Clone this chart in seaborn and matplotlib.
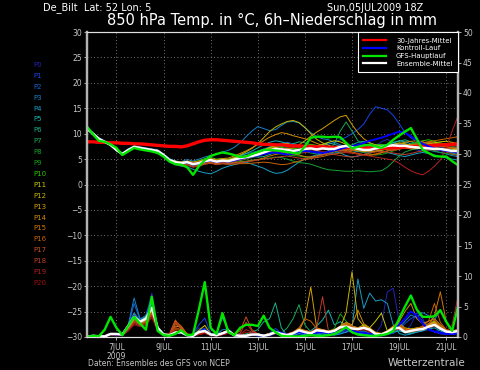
import matplotlib
matplotlib.use("Agg")
import matplotlib.pyplot as plt
from matplotlib.lines import Line2D
import pandas as pd
import seaborn as sns

# ---------------- data ----------------
hours = list(range(0, 379, 6))   # forecast hours from 05JUL2009 18Z
x_ticks = [30, 78, 126, 174, 222, 270, 318, 366]
x_labels = ["7JUL\n2009", "9JUL", "11JUL", "13JUL", "15JUL", "17JUL", "19JUL", "21JUL"]
members = ["P%d" % i for i in range(21)]
member_colors = ["#2323b9", "#1446e6", "#1464d2", "#1482c8", "#14a0c8", "#14b4b4", "#14b48c",
                 "#14aa5a", "#14a032", "#14a014", "#28c800", "#c8c800", "#c8b400", "#d2a000",
                 "#d28c00", "#d27800", "#c86400", "#c85014", "#be3c28", "#b42020", "#a01010"]

clim_t = [8.4, 8.4, 8.3, 8.3, 8.2, 8.2, 8.1, 8.1, 8.0, 8.0, 7.9, 7.8, 7.7, 7.6, 7.5, 7.5,
          7.4, 7.6, 8.0, 8.4, 8.7, 8.8, 8.8, 8.7, 8.6, 8.5, 8.4, 8.3, 8.2, 8.0, 7.9, 7.9,
          7.8, 7.8, 7.7, 7.6, 7.6, 7.5, 7.5, 7.4, 7.4, 7.3, 7.3, 7.3, 7.2, 7.3, 7.3, 7.2,
          7.2, 7.2, 7.1, 7.2, 7.2, 7.3, 7.4, 7.4, 7.5, 7.6, 7.6, 7.7, 7.8, 7.8, 7.9, 8.0]
mean_t = [11.0, 10.0, 9.0, 8.4, 7.8, 6.8, 6.0, 6.8, 7.4, 7.2, 7.0, 6.8, 6.6, 5.8, 4.8, 4.4,
          4.2, 4.4, 4.0, 4.2, 4.6, 4.8, 4.5, 4.7, 4.6, 4.9, 5.2, 5.4, 5.6, 5.9, 6.3, 6.7,
          7.0, 6.9, 6.8, 6.6, 6.8, 7.0, 7.1, 6.9, 7.1, 7.0, 7.0, 7.4, 7.6, 7.3, 7.0, 6.8,
          6.8, 7.1, 7.3, 7.6, 7.7, 7.6, 7.6, 7.4, 7.3, 7.2, 7.1, 7.0, 7.0, 6.8, 6.6, 6.6]
gfs_t = [11.4, 9.9, 8.6, 8.4, 7.9, 7.2, 5.8, 6.5, 7.2, 6.9, 6.7, 6.5, 6.2, 5.5, 4.5, 4.0,
         3.9, 3.4, 1.9, 3.6, 4.8, 5.6, 6.0, 6.3, 6.1, 5.8, 5.4, 5.5, 6.0, 6.4, 6.8, 6.8,
         6.7, 6.6, 6.4, 6.2, 6.1, 7.5, 9.2, 9.4, 9.4, 9.3, 9.4, 9.3, 8.2, 7.1, 7.4, 7.7,
         7.8, 7.5, 7.2, 7.8, 8.8, 9.6, 10.4, 11.1, 9.0, 6.8, 6.2, 5.6, 5.5, 5.5, 4.6, 3.8]
ctrl_t = [11.1, 10.0, 9.0, 8.4, 7.8, 6.8, 6.0, 6.8, 7.4, 7.2, 7.0, 6.8, 6.6, 5.8, 4.8, 4.3,
          4.1, 4.3, 3.9, 4.1, 4.5, 4.7, 4.4, 4.6, 4.5, 4.7, 5.0, 5.3, 5.5, 5.7, 6.0, 6.2,
          6.3, 6.1, 5.9, 6.1, 6.4, 6.6, 6.5, 6.3, 6.2, 6.4, 6.7, 7.0, 7.3, 7.5, 7.8, 8.2,
          8.6, 8.9, 9.2, 9.6, 10.0, 10.4, 10.2, 9.5, 8.7, 8.0, 7.5, 7.1, 6.8, 6.6, 6.5, 6.4]

p0_t = [11.2, 10.1, 9.1, 8.3, 7.7, 6.7, 6.0, 6.9, 7.5, 7.3, 7.1, 6.9, 6.7, 5.7, 4.6, 4.2,
        4.0, 4.3, 3.7, 3.9, 4.2, 4.5, 4.2, 4.4, 4.3, 4.6, 5.0, 5.3, 5.7, 6.2, 6.5, 6.8,
        6.6, 6.3, 6.0, 5.8, 6.1, 6.4, 6.6, 6.2, 6.0, 6.2, 6.5, 6.9, 7.2, 6.8, 6.4, 6.6,
        7.0, 7.6, 8.4, 8.9, 8.2, 7.6, 7.3, 7.0, 6.8, 6.6, 6.9, 7.3, 7.0, 6.5, 6.2, 6.0]
p1_t = [11.0, 9.9, 9.0, 8.5, 7.9, 6.9, 6.1, 6.8, 7.3, 7.1, 6.9, 6.7, 6.4, 5.6, 4.9, 4.5,
        4.4, 4.6, 4.3, 4.5, 4.8, 5.1, 4.9, 5.0, 4.9, 5.2, 5.4, 5.5, 5.6, 5.7, 6.0, 6.3,
        6.6, 6.7, 6.4, 6.2, 6.5, 6.9, 7.2, 7.4, 7.6, 7.9, 8.3, 8.8, 9.3, 10.0, 10.8, 11.9,
        13.8, 15.3, 15.0, 14.7, 13.6, 12.0, 10.2, 9.2, 8.5, 8.0, 7.6, 7.4, 7.7, 7.6, 7.2, 7.0]
p2_t = [11.3, 10.2, 9.2, 8.5, 7.7, 6.6, 5.9, 6.7, 7.3, 7.0, 6.8, 6.6, 6.4, 5.5, 4.5, 4.0,
        3.8, 4.0, 3.6, 3.9, 4.3, 4.4, 4.1, 4.3, 4.5, 5.0, 5.6, 6.0, 6.3, 6.6, 7.0, 7.4,
        7.8, 8.1, 8.3, 8.0, 7.6, 7.2, 7.0, 6.6, 6.3, 6.0, 6.2, 6.6, 6.9, 6.7, 6.5, 6.3,
        6.4, 6.6, 7.0, 7.3, 7.5, 7.8, 8.0, 7.8, 7.6, 7.9, 8.1, 7.8, 7.5, 7.0, 6.7, 6.3]
p3_t = [10.9, 9.8, 8.9, 8.3, 7.8, 6.9, 6.2, 7.0, 7.6, 7.4, 7.2, 7.0, 6.8, 6.0, 5.1, 4.6,
        4.5, 4.9, 4.6, 5.0, 5.4, 5.7, 6.0, 6.4, 6.7, 7.3, 8.2, 9.4, 10.5, 11.4, 11.0, 10.6,
        10.8, 11.6, 12.3, 12.4, 12.1, 11.2, 10.2, 9.4, 9.0, 8.8, 8.3, 7.8, 7.4, 7.0, 6.6, 6.4,
        6.6, 6.9, 7.3, 7.8, 8.2, 8.0, 7.7, 7.5, 7.2, 7.0, 6.8, 6.5, 6.3, 6.0, 5.7, 5.5]
p4_t = [11.1, 10.0, 9.0, 8.3, 7.7, 6.7, 5.9, 6.7, 7.3, 7.1, 6.9, 6.7, 6.5, 5.6, 4.5, 3.9,
        3.6, 3.5, 3.0, 2.6, 2.3, 2.1, 2.6, 3.2, 3.6, 3.9, 4.2, 4.4, 4.0, 3.6, 3.2, 2.6,
        2.2, 2.3, 2.8, 3.6, 4.4, 5.0, 5.5, 5.8, 6.0, 6.3, 6.6, 6.2, 5.7, 5.4, 5.6, 5.9,
        6.2, 6.5, 6.6, 6.3, 6.0, 5.7, 5.5, 5.8, 6.1, 6.3, 6.1, 5.8, 5.5, 5.2, 5.0, 4.8]
p5_t = [11.0, 10.1, 9.1, 8.4, 7.8, 6.8, 6.1, 6.9, 7.4, 7.3, 7.1, 6.9, 6.6, 5.9, 5.0, 4.6,
        4.3, 4.5, 4.2, 4.3, 4.5, 4.7, 4.3, 4.6, 4.8, 5.3, 5.7, 6.1, 6.6, 7.2, 7.8, 8.3,
        8.6, 8.4, 8.0, 7.8, 7.5, 7.1, 6.9, 7.3, 7.8, 8.2, 7.9, 7.5, 7.1, 6.7, 6.5, 6.8,
        7.2, 7.5, 7.7, 7.9, 8.3, 8.6, 8.4, 8.0, 7.7, 7.3, 7.0, 6.8, 6.9, 7.1, 7.3, 7.0]
p6_t = [11.2, 10.0, 9.0, 8.4, 7.8, 6.7, 6.0, 6.8, 7.5, 7.3, 7.0, 6.8, 6.6, 5.8, 4.8, 4.3,
        4.1, 4.2, 3.9, 4.0, 4.4, 4.6, 4.4, 4.6, 4.7, 5.0, 5.4, 5.6, 5.5, 5.4, 5.5, 5.9,
        6.3, 6.7, 7.3, 8.0, 8.4, 8.2, 7.8, 7.4, 7.0, 6.8, 6.7, 6.9, 7.3, 7.8, 8.3, 8.5,
        8.2, 7.8, 7.6, 7.9, 8.2, 8.5, 8.8, 8.4, 8.0, 7.8, 7.6, 7.3, 7.0, 6.6, 6.2, 5.8]
p7_t = [11.0, 9.9, 8.9, 8.3, 7.8, 6.9, 6.1, 6.9, 7.4, 7.2, 7.0, 6.8, 6.6, 5.8, 4.7, 4.2,
        4.2, 4.5, 4.1, 4.3, 4.8, 5.0, 4.7, 4.8, 4.5, 4.6, 4.9, 5.3, 5.6, 6.0, 6.5, 7.0,
        7.3, 7.5, 7.4, 7.0, 6.8, 6.5, 6.2, 6.0, 6.2, 6.6, 8.0, 10.5, 12.3, 10.5, 8.6, 8.0,
        7.6, 7.3, 7.0, 6.8, 6.9, 7.0, 7.2, 7.4, 7.3, 7.5, 7.8, 8.0, 8.2, 7.9, 7.5, 7.2]
p8_t = [11.1, 10.0, 9.0, 8.4, 7.8, 6.8, 6.0, 6.7, 7.3, 7.1, 6.9, 6.7, 6.5, 5.6, 4.6, 4.1,
        3.9, 4.0, 3.7, 3.8, 4.2, 4.3, 4.0, 4.2, 4.1, 4.3, 4.5, 4.6, 4.8, 4.9, 5.1, 5.2,
        5.4, 5.3, 5.0, 4.6, 4.3, 4.2, 4.0, 3.6, 3.2, 2.9, 2.8, 2.7, 2.6, 2.6, 2.7, 2.6,
        2.5, 2.6, 2.7, 3.4, 4.5, 5.6, 6.4, 6.8, 7.0, 7.1, 6.9, 6.6, 6.3, 6.1, 5.9, 5.8]
p9_t = [11.0, 10.1, 9.1, 8.5, 7.9, 6.8, 6.1, 6.8, 7.5, 7.2, 7.0, 6.8, 6.6, 5.8, 4.8, 4.3,
        4.2, 4.4, 4.1, 4.1, 4.4, 4.5, 4.3, 4.5, 4.4, 4.5, 4.7, 5.0, 5.3, 5.7, 6.1, 6.4,
        6.2, 6.0, 5.8, 5.7, 5.6, 5.4, 5.3, 5.5, 5.8, 6.1, 6.4, 6.7, 7.0, 6.9, 6.6, 6.3,
        6.0, 5.8, 5.9, 6.2, 6.6, 7.0, 7.4, 7.7, 7.9, 8.1, 8.4, 8.3, 8.1, 7.7, 7.3, 7.1]
p10_t = [11.3, 10.1, 9.1, 8.4, 7.8, 6.6, 5.9, 6.6, 7.2, 7.0, 6.8, 6.6, 6.4, 5.7, 4.8, 4.4,
         4.3, 4.6, 4.4, 4.7, 5.1, 5.3, 5.0, 5.1, 5.0, 5.2, 5.4, 5.7, 5.9, 6.3, 6.8, 7.2,
         7.5, 7.3, 7.1, 7.0, 7.2, 7.6, 7.9, 7.7, 7.4, 7.2, 7.1, 7.3, 7.5, 7.6, 7.4, 7.2,
         7.5, 7.8, 7.9, 7.6, 7.3, 7.2, 7.5, 7.9, 8.3, 8.6, 8.8, 8.5, 8.0, 7.5, 7.0, 6.5]
p11_t = [11.0, 9.9, 8.9, 8.3, 7.8, 6.9, 6.0, 6.8, 7.4, 7.2, 7.0, 6.8, 6.7, 5.9, 4.9, 4.6,
         4.4, 4.5, 4.2, 4.4, 4.7, 4.9, 4.7, 4.9, 4.8, 5.1, 5.4, 5.6, 5.9, 6.3, 6.8, 7.3,
         7.6, 7.9, 8.1, 7.7, 7.3, 7.0, 7.2, 7.6, 7.9, 8.3, 8.6, 8.4, 7.9, 7.5, 7.2, 7.0,
         6.9, 7.0, 7.2, 7.5, 7.9, 8.2, 8.0, 7.7, 7.6, 7.8, 8.0, 8.2, 8.4, 8.5, 8.3, 8.0]
p12_t = [11.1, 10.0, 9.0, 8.4, 7.7, 6.7, 6.0, 6.8, 7.4, 7.2, 7.0, 6.8, 6.6, 5.7, 4.7, 4.3,
         4.1, 4.3, 4.0, 4.2, 4.6, 4.8, 4.5, 4.8, 4.9, 5.3, 5.8, 6.4, 7.1, 8.0, 9.2, 10.4,
         11.3, 11.9, 12.4, 12.6, 12.2, 11.2, 10.0, 8.9, 8.2, 7.7, 7.4, 7.3, 7.5, 7.4, 7.1, 6.8,
         6.6, 6.5, 6.7, 7.0, 7.3, 7.4, 7.2, 7.0, 7.1, 7.3, 7.4, 7.2, 6.9, 6.7, 6.8, 7.0]
p13_t = [11.0, 10.0, 9.0, 8.4, 7.8, 6.8, 6.0, 6.8, 7.4, 7.2, 7.0, 6.8, 6.6, 5.8, 4.8, 4.4,
         4.3, 4.4, 4.1, 4.3, 4.7, 4.8, 4.5, 4.7, 4.6, 4.8, 5.1, 5.4, 5.8, 6.2, 6.7, 7.1,
         7.3, 7.1, 7.0, 7.2, 7.8, 8.6, 9.5, 10.3, 11.0, 11.8, 12.6, 13.3, 13.6, 11.8, 10.2, 9.0,
         8.2, 7.8, 7.5, 7.3, 7.4, 7.6, 7.8, 7.9, 7.8, 7.6, 7.5, 7.7, 7.9, 8.0, 7.8, 7.6]
p14_t = [11.1, 10.1, 9.0, 8.3, 7.7, 6.8, 6.1, 6.8, 7.4, 7.2, 7.0, 6.8, 6.6, 5.8, 4.9, 4.5,
         4.4, 4.6, 4.4, 4.6, 4.9, 5.1, 4.9, 5.1, 5.2, 5.6, 6.1, 6.6, 7.2, 7.9, 8.6, 9.3,
         9.8, 10.2, 10.0, 9.6, 9.3, 9.0, 8.6, 8.1, 7.7, 7.4, 7.2, 7.0, 6.9, 6.8, 6.6, 6.5,
         6.4, 6.6, 6.9, 7.2, 7.6, 8.0, 8.3, 8.5, 8.6, 8.4, 8.1, 7.8, 7.6, 7.4, 7.2, 7.0]
p15_t = [10.9, 9.9, 8.9, 8.3, 7.8, 6.9, 6.1, 6.8, 7.4, 7.2, 7.0, 6.8, 6.5, 5.7, 4.6, 4.1,
         3.9, 4.1, 3.8, 3.9, 4.2, 4.4, 4.1, 4.3, 4.2, 4.3, 4.4, 4.5, 4.7, 4.9, 5.2, 5.6,
         5.9, 6.1, 6.3, 6.1, 5.8, 5.5, 5.4, 5.6, 5.9, 6.2, 6.5, 6.8, 6.7, 6.4, 6.1, 5.9,
         5.8, 6.0, 6.3, 6.6, 6.9, 7.1, 7.3, 7.5, 7.8, 8.1, 8.3, 8.1, 7.8, 7.4, 7.1, 6.9]
p16_t = [11.2, 10.1, 9.1, 8.4, 7.7, 6.7, 6.0, 6.7, 7.3, 7.1, 6.9, 6.7, 6.5, 5.6, 4.6, 4.1,
         3.9, 4.0, 3.6, 3.7, 4.0, 4.2, 4.0, 4.1, 4.0, 4.0, 4.1, 4.1, 4.2, 4.3, 4.4, 4.3,
         4.1, 3.9, 4.0, 4.3, 4.6, 4.9, 5.1, 5.3, 5.5, 5.8, 6.0, 6.2, 6.3, 6.2, 6.0, 5.8,
         5.7, 5.9, 6.2, 6.6, 7.0, 7.4, 7.6, 7.8, 8.0, 8.2, 8.4, 8.6, 8.8, 9.0, 9.2, 9.4]
p17_t = [11.0, 10.0, 9.0, 8.4, 7.8, 6.8, 6.0, 6.8, 7.4, 7.2, 7.0, 6.8, 6.6, 5.8, 4.8, 4.3,
         4.1, 4.2, 3.9, 4.0, 4.3, 4.5, 4.2, 4.4, 4.3, 4.5, 4.8, 5.1, 5.4, 5.7, 6.0, 6.2,
         6.4, 6.3, 6.1, 6.0, 6.2, 6.5, 6.8, 7.1, 7.3, 7.1, 6.8, 6.6, 6.5, 6.7, 7.0, 7.2,
         7.4, 7.3, 7.0, 6.8, 6.7, 6.9, 7.2, 7.5, 7.7, 7.8, 7.6, 7.3, 7.1, 7.0, 7.2, 7.5]
p18_t = [11.1, 10.0, 9.0, 8.3, 7.7, 6.7, 5.9, 6.7, 7.3, 7.1, 6.9, 6.7, 6.5, 5.6, 4.5, 4.0,
         3.7, 3.8, 3.4, 3.6, 4.0, 4.2, 3.9, 4.1, 4.0, 4.2, 4.3, 4.5, 4.6, 4.8, 5.0, 5.1,
         5.3, 5.5, 5.6, 5.4, 5.2, 5.1, 5.2, 5.5, 5.8, 6.0, 5.9, 5.7, 5.5, 5.4, 5.6, 5.9,
         6.2, 6.4, 6.5, 6.4, 6.2, 6.0, 5.9, 6.1, 6.4, 6.6, 6.8, 6.9, 6.7, 6.4, 6.0, 5.7]
p19_t = [11.0, 10.0, 9.0, 8.4, 7.8, 6.8, 6.0, 6.8, 7.5, 7.3, 7.1, 6.9, 6.7, 5.9, 4.9, 4.5,
         4.3, 4.5, 4.2, 4.4, 4.7, 4.9, 4.6, 4.8, 4.7, 4.9, 5.1, 5.4, 5.6, 5.8, 6.1, 6.3,
         6.5, 6.6, 6.4, 6.2, 6.1, 6.3, 6.5, 6.7, 6.9, 7.0, 6.8, 6.5, 6.3, 6.2, 6.0, 5.8,
         5.6, 5.4, 5.2, 5.0, 4.8, 4.2, 3.4, 2.7, 2.2, 1.9, 2.6, 3.6, 4.8, 7.2, 10.5, 13.5]
p20_t = [11.1, 10.0, 9.0, 8.4, 7.8, 6.8, 6.0, 6.8, 7.3, 7.1, 6.9, 6.7, 6.5, 5.7, 4.7, 4.3,
         4.0, 4.1, 3.8, 4.0, 4.4, 4.6, 4.3, 4.5, 4.5, 4.8, 5.2, 5.5, 5.8, 6.0, 6.3, 6.6,
         6.8, 7.0, 7.2, 7.4, 7.3, 7.1, 6.9, 6.7, 6.5, 6.4, 6.6, 6.9, 7.2, 7.5, 7.4, 7.1,
         6.9, 6.8, 7.0, 7.3, 7.6, 7.8, 7.7, 7.5, 7.3, 7.1, 6.9, 6.8, 7.0, 7.3, 7.6, 7.8]

mean_r = [0.0, 0.2, 0.1, 0.1, 0.5, 0.5, 0.4, 1.8, 3.3, 2.5, 3.0, 4.8, 1.5, 0.4, 0.3, 0.7,
          0.8, 0.3, 0.2, 0.8, 1.0, 0.4, 0.3, 0.6, 1.0, 0.3, 0.2, 0.2, 0.4, 0.4, 0.2, 0.4,
          0.8, 0.5, 0.3, 0.6, 1.1, 0.8, 0.6, 1.1, 1.0, 0.8, 1.0, 1.6, 1.7, 1.4, 1.3, 1.5,
          1.2, 0.5, 0.4, 0.8, 1.4, 1.5, 0.8, 1.0, 1.2, 1.3, 1.7, 2.0, 1.4, 0.9, 0.8, 1.0]
gfs_r = [0.0, 0.2, 0.1, 1.2, 3.3, 1.5, 0.3, 1.8, 3.3, 2.2, 1.2, 6.6, 1.0, 0.3, 0.2, 0.5,
         1.1, 0.3, 0.4, 4.5, 9.0, 1.5, 0.5, 3.9, 0.8, 0.3, 1.5, 2.0, 2.0, 1.8, 3.5, 1.5,
         0.8, 0.2, 0.1, 0.1, 0.1, 0.2, 0.3, 0.2, 0.2, 0.3, 0.5, 1.0, 1.6, 0.8, 0.4, 0.3,
         0.2, 0.2, 0.3, 0.5, 1.0, 3.0, 5.0, 6.8, 4.5, 3.3, 3.3, 3.4, 4.4, 2.5, 1.0, 5.0]
ctrl_r = [0.0, 0.2, 0.1, 0.1, 0.5, 0.4, 0.4, 1.7, 3.5, 2.5, 3.0, 5.0, 1.5, 0.4, 0.3, 0.7,
          0.8, 0.3, 0.2, 0.8, 1.2, 0.4, 0.3, 0.6, 0.9, 0.3, 0.2, 0.2, 0.4, 0.3, 0.2, 0.4,
          0.9, 0.7, 0.4, 0.5, 0.8, 0.6, 0.5, 0.7, 0.8, 0.6, 0.7, 1.0, 1.3, 1.0, 0.8, 0.7,
          0.5, 0.4, 0.4, 0.7, 1.2, 2.0, 3.0, 4.2, 3.5, 2.2, 1.2, 0.9, 0.7, 0.5, 0.5, 0.6]

p0_r = [0.0, 0.1, 0.1, 0.2, 0.4, 0.3, 0.5, 1.8, 4.0, 2.6, 3.4, 7.2, 1.6, 0.3, 0.2, 0.5,
        0.6, 0.2, 0.3, 1.5, 1.2, 0.3, 0.2, 0.4, 0.6, 0.2, 0.1, 0.1, 0.3, 0.2, 0.1, 0.2,
        0.5, 0.3, 0.2, 0.4, 0.6, 0.4, 0.3, 0.5, 0.6, 0.4, 0.5, 0.8, 1.0, 0.7, 0.5, 0.4,
        0.3, 0.5, 2.0, 7.4, 8.0, 2.5, 0.8, 2.0, 4.0, 3.0, 1.2, 0.8, 0.5, 0.4, 0.6, 0.8]
p1_r = [0.0, 0.2, 0.1, 0.1, 0.5, 0.4, 0.3, 1.6, 3.8, 2.8, 3.2, 6.0, 1.5, 0.4, 0.3, 0.8,
        0.9, 0.3, 0.5, 2.0, 3.1, 0.6, 0.2, 0.5, 0.8, 0.2, 0.1, 0.2, 0.3, 0.5, 0.3, 0.6,
        1.4, 0.6, 0.2, 0.3, 0.5, 0.3, 0.2, 0.4, 0.5, 0.3, 0.4, 0.6, 0.8, 1.0, 1.2, 0.8,
        0.5, 0.3, 0.2, 0.4, 0.6, 1.2, 2.2, 3.0, 3.5, 2.6, 1.5, 0.8, 1.2, 0.6, 0.4, 0.5]
p2_r = [0.0, 0.2, 0.1, 0.1, 0.6, 0.4, 0.4, 1.7, 5.5, 2.8, 3.6, 6.5, 1.7, 0.4, 0.3, 0.6,
        0.7, 0.2, 0.2, 1.0, 1.4, 0.4, 0.3, 0.6, 0.9, 0.3, 0.2, 0.2, 0.3, 0.2, 0.2, 0.5,
        0.7, 0.4, 0.3, 0.5, 0.8, 0.6, 0.4, 0.6, 0.8, 0.5, 0.6, 1.2, 1.4, 1.0, 0.7, 0.6,
        0.4, 0.3, 0.3, 0.5, 0.9, 1.4, 0.9, 0.6, 0.8, 1.0, 1.4, 1.8, 1.2, 0.6, 0.5, 0.7]
p3_r = [0.0, 0.2, 0.1, 0.1, 0.5, 0.5, 0.5, 2.0, 6.4, 3.0, 3.4, 5.5, 1.6, 0.4, 0.3, 0.7,
        0.9, 0.3, 0.2, 0.7, 1.0, 0.4, 0.4, 1.2, 1.3, 0.4, 0.2, 0.2, 0.5, 0.4, 0.3, 0.5,
        0.9, 0.6, 0.4, 0.5, 0.8, 0.6, 0.5, 0.8, 0.9, 0.6, 0.5, 0.8, 1.2, 1.0, 0.8, 1.0,
        0.6, 0.4, 0.3, 0.5, 0.9, 1.5, 2.6, 3.6, 3.2, 4.0, 3.5, 2.8, 4.4, 2.5, 1.2, 1.0]
p4_r = [0.0, 0.1, 0.1, 0.1, 0.4, 0.5, 0.4, 1.6, 3.6, 2.4, 2.8, 4.6, 1.4, 0.3, 0.3, 0.6,
        0.7, 0.3, 0.2, 0.6, 1.1, 0.4, 0.3, 0.7, 1.0, 0.3, 0.2, 0.2, 0.4, 0.5, 0.3, 0.4,
        0.7, 0.4, 0.3, 0.5, 0.7, 0.4, 0.3, 0.5, 0.3, 0.5, 0.3, 0.5, 0.8, 1.5, 9.5, 4.7,
        7.2, 5.9, 6.1, 5.5, 2.0, 0.6, 0.3, 0.5, 0.8, 1.0, 1.3, 1.5, 1.0, 0.6, 0.5, 0.7]
p5_r = [0.0, 0.2, 0.1, 0.1, 0.5, 0.5, 0.4, 1.7, 3.2, 2.4, 2.9, 4.4, 1.5, 0.4, 0.3, 0.8,
        0.9, 0.3, 0.2, 0.8, 0.9, 0.4, 0.5, 3.2, 1.2, 0.3, 0.2, 0.3, 0.6, 0.5, 0.3, 0.4,
        0.6, 0.3, 0.2, 0.4, 0.6, 0.8, 1.0, 1.8, 2.8, 4.4, 2.0, 2.5, 2.0, 1.0, 0.6, 0.5,
        0.4, 0.3, 0.3, 0.5, 0.8, 1.0, 0.7, 0.6, 0.9, 1.2, 1.5, 1.8, 1.2, 0.8, 0.6, 0.8]
p6_r = [0.0, 0.2, 0.1, 0.1, 0.5, 0.4, 0.4, 1.9, 3.9, 2.6, 3.1, 5.0, 1.6, 0.5, 0.3, 0.8,
        0.8, 0.3, 0.2, 0.7, 1.0, 0.5, 0.6, 3.5, 1.0, 0.3, 0.3, 0.5, 0.8, 1.2, 2.5, 3.0,
        5.6, 1.5, 0.2, 0.4, 0.6, 0.5, 0.4, 0.6, 0.7, 0.5, 0.6, 1.0, 1.4, 1.2, 0.9, 0.7,
        0.5, 0.3, 0.3, 0.6, 1.0, 1.3, 0.8, 0.7, 1.0, 1.3, 1.8, 2.2, 1.6, 0.9, 0.7, 0.8]
p7_r = [0.0, 0.2, 0.1, 0.1, 0.4, 0.5, 0.4, 1.5, 3.4, 2.5, 3.0, 4.7, 1.4, 0.4, 0.3, 0.6,
        0.7, 0.2, 0.3, 0.9, 1.1, 0.4, 0.3, 0.7, 0.9, 0.3, 0.2, 0.2, 0.4, 0.4, 0.3, 0.6,
        0.8, 0.6, 1.5, 3.0, 5.3, 2.0, 0.8, 0.6, 0.8, 0.6, 0.5, 1.0, 1.5, 1.2, 0.9, 0.8,
        0.6, 0.4, 0.3, 0.6, 1.2, 1.6, 1.0, 0.8, 1.1, 1.4, 1.9, 2.3, 1.5, 0.9, 0.6, 0.8]
p8_r = [0.0, 0.2, 0.1, 0.1, 0.5, 0.4, 0.3, 1.4, 3.0, 2.2, 2.7, 4.2, 1.3, 0.3, 0.2, 0.6,
        0.6, 0.2, 0.2, 0.6, 0.8, 0.3, 0.3, 0.5, 0.8, 0.2, 0.2, 0.2, 0.3, 0.3, 0.2, 0.4,
        0.6, 0.4, 0.3, 0.5, 0.9, 0.6, 0.4, 0.7, 0.8, 0.6, 0.7, 1.3, 1.7, 1.3, 1.1, 1.2,
        1.0, 0.5, 0.4, 0.7, 1.2, 1.4, 0.8, 0.9, 1.1, 1.2, 1.5, 1.8, 1.3, 0.8, 0.6, 0.7]
p9_r = [0.0, 0.2, 0.1, 0.1, 0.5, 0.5, 0.4, 1.6, 3.1, 2.3, 2.8, 4.3, 1.5, 0.4, 0.3, 0.7,
        0.8, 0.3, 0.2, 0.7, 0.9, 0.4, 0.3, 0.6, 0.9, 0.3, 0.2, 0.2, 0.4, 0.3, 0.2, 0.5,
        0.7, 0.5, 0.3, 0.6, 1.0, 0.7, 0.5, 0.9, 1.2, 0.9, 1.4, 3.8, 2.6, 1.5, 1.2, 1.4,
        1.0, 0.5, 0.3, 0.7, 1.3, 1.8, 1.1, 1.0, 1.3, 1.6, 2.1, 2.5, 1.7, 1.0, 0.8, 1.0]
p10_r = [0.0, 0.2, 0.1, 0.1, 0.6, 0.5, 0.4, 1.8, 3.5, 2.6, 3.3, 5.2, 1.6, 0.4, 0.3, 0.7,
         0.8, 0.3, 0.2, 0.8, 1.0, 0.4, 0.3, 0.7, 1.1, 0.3, 0.2, 0.2, 0.4, 0.3, 0.2, 0.4,
         0.7, 0.5, 0.4, 0.6, 1.0, 0.8, 0.6, 1.0, 1.0, 0.8, 1.0, 1.5, 2.0, 1.6, 1.3, 1.6,
         1.2, 0.6, 0.4, 0.9, 1.6, 2.0, 1.2, 1.2, 1.4, 1.5, 2.2, 2.6, 1.6, 1.0, 0.8, 1.2]
p11_r = [0.0, 0.2, 0.1, 0.1, 0.5, 0.4, 0.4, 1.7, 3.3, 2.5, 3.0, 4.9, 1.5, 0.4, 0.3, 0.9,
         0.9, 0.3, 0.3, 1.1, 1.9, 0.5, 0.3, 0.6, 1.0, 0.3, 0.2, 0.3, 0.5, 0.4, 0.2, 0.5,
         0.8, 0.5, 0.3, 0.5, 1.2, 1.0, 0.7, 1.1, 1.0, 0.8, 1.0, 1.7, 2.2, 1.8, 1.5, 2.0,
         1.5, 2.6, 3.9, 1.0, 1.6, 2.2, 1.5, 1.3, 1.5, 1.6, 2.0, 2.4, 1.6, 1.0, 0.8, 1.1]
p12_r = [0.0, 0.2, 0.1, 0.1, 0.5, 0.5, 0.4, 1.8, 3.6, 2.6, 3.1, 5.0, 1.6, 0.5, 0.4, 1.2,
         1.0, 0.4, 0.3, 0.8, 1.0, 0.4, 0.3, 0.7, 1.1, 0.4, 0.2, 0.3, 0.5, 0.4, 0.3, 0.5,
         0.8, 0.6, 0.4, 0.7, 1.3, 1.0, 0.8, 1.2, 1.1, 0.9, 1.2, 1.5, 4.0, 10.7, 3.0, 1.8,
         1.4, 0.7, 0.5, 1.0, 1.6, 2.0, 1.4, 1.3, 1.4, 1.6, 2.1, 2.5, 1.8, 1.1, 0.9, 1.1]
p13_r = [0.0, 0.2, 0.1, 0.1, 0.5, 0.4, 0.4, 1.6, 3.4, 2.5, 2.9, 4.6, 1.5, 0.4, 0.3, 1.5,
         1.2, 0.4, 0.2, 0.7, 1.0, 0.4, 0.3, 0.6, 0.9, 0.3, 0.2, 0.3, 0.4, 0.4, 0.3, 0.5,
         0.8, 0.6, 0.5, 0.7, 1.0, 3.0, 8.2, 1.5, 1.2, 0.9, 1.0, 1.6, 2.0, 1.6, 1.4, 1.7,
         1.3, 0.6, 0.5, 0.9, 1.5, 1.8, 1.2, 1.1, 1.3, 1.5, 1.9, 2.3, 1.6, 1.0, 0.8, 1.0]
p14_r = [0.0, 0.2, 0.1, 0.1, 0.5, 0.4, 0.4, 1.5, 3.2, 2.4, 2.8, 4.5, 1.4, 0.4, 0.3, 1.8,
         1.6, 0.5, 0.3, 0.7, 0.9, 0.4, 0.3, 0.6, 0.9, 0.3, 0.2, 0.3, 0.5, 0.4, 0.3, 0.6,
         0.9, 0.7, 0.5, 0.8, 1.4, 1.1, 0.8, 1.3, 1.2, 1.0, 1.2, 1.8, 2.4, 2.0, 4.4, 2.2,
         1.5, 0.8, 0.6, 1.0, 1.8, 2.5, 4.2, 5.5, 3.0, 2.2, 2.6, 3.0, 2.0, 1.2, 0.9, 1.2]
p15_r = [0.0, 0.2, 0.1, 0.1, 0.5, 0.4, 0.4, 1.4, 3.0, 2.2, 2.6, 4.2, 1.3, 0.3, 0.3, 2.2,
         1.4, 0.4, 0.2, 0.6, 0.8, 0.3, 0.3, 0.5, 0.8, 0.2, 0.2, 0.2, 0.4, 0.4, 0.2, 0.5,
         0.8, 0.6, 0.4, 0.7, 1.2, 1.0, 0.7, 1.1, 1.0, 0.8, 1.0, 1.5, 2.0, 1.7, 1.4, 1.6,
         1.2, 0.6, 0.4, 0.8, 1.4, 1.7, 1.1, 1.0, 1.2, 1.5, 2.0, 3.5, 7.4, 2.5, 1.0, 1.2]
p16_r = [0.0, 0.2, 0.1, 0.1, 0.4, 0.4, 0.3, 1.3, 2.8, 2.1, 2.5, 4.0, 1.2, 0.3, 0.3, 2.6,
         1.8, 0.5, 0.2, 0.6, 0.8, 0.3, 0.2, 0.5, 0.7, 0.3, 0.2, 0.3, 0.6, 0.5, 0.3, 0.5,
         0.8, 0.6, 0.5, 0.8, 1.5, 3.0, 2.6, 1.4, 1.1, 0.9, 1.1, 1.6, 2.2, 1.8, 1.5, 1.7,
         1.3, 0.7, 0.5, 0.9, 1.5, 1.9, 1.3, 1.2, 1.4, 1.8, 2.6, 5.5, 2.4, 1.2, 0.9, 1.3]
p17_r = [0.0, 0.2, 0.1, 0.1, 0.4, 0.3, 0.3, 1.2, 2.6, 2.0, 2.4, 3.8, 1.2, 0.4, 0.5, 2.8,
         1.5, 0.4, 0.2, 0.5, 0.7, 0.3, 0.2, 0.4, 0.7, 0.4, 1.0, 3.3, 1.2, 0.5, 0.3, 0.5,
         0.7, 0.5, 0.4, 0.7, 1.2, 1.0, 0.8, 1.3, 1.2, 0.9, 1.0, 1.5, 2.0, 1.6, 1.3, 1.5,
         1.1, 0.6, 0.4, 0.8, 1.4, 2.2, 1.4, 1.1, 1.3, 1.6, 2.2, 2.8, 1.8, 1.1, 0.9, 1.2]
p18_r = [0.0, 0.2, 0.1, 0.1, 0.4, 0.3, 0.3, 1.1, 2.4, 1.9, 2.2, 3.6, 1.1, 0.3, 0.4, 2.4,
         1.3, 0.4, 0.2, 0.5, 0.7, 0.3, 0.2, 0.4, 0.7, 0.3, 0.6, 2.4, 1.0, 0.4, 0.3, 0.4,
         0.6, 0.5, 0.4, 0.6, 1.0, 0.8, 0.7, 1.5, 6.6, 1.0, 0.8, 1.3, 1.8, 1.4, 1.2, 1.4,
         1.0, 0.5, 0.4, 0.7, 1.2, 1.6, 1.0, 1.0, 1.2, 1.4, 1.8, 2.2, 1.5, 0.9, 0.7, 1.0]
p19_r = [0.0, 0.2, 0.1, 0.1, 0.4, 0.3, 0.3, 1.0, 2.2, 1.8, 2.0, 3.4, 1.0, 0.3, 0.3, 1.6,
         1.0, 0.3, 0.2, 0.4, 0.6, 0.3, 0.2, 0.4, 0.6, 0.3, 0.4, 1.2, 0.8, 0.4, 0.2, 0.4,
         0.6, 0.4, 0.3, 0.5, 0.9, 0.7, 0.6, 0.9, 1.0, 0.8, 0.9, 1.3, 1.7, 1.3, 1.1, 1.3,
         0.9, 0.5, 0.4, 0.7, 1.2, 1.5, 0.9, 0.9, 1.1, 1.3, 1.6, 2.0, 1.4, 0.9, 2.0, 6.6]
p20_r = [0.0, 0.2, 0.1, 0.1, 0.4, 0.3, 0.3, 1.0, 2.0, 1.7, 1.9, 3.2, 1.0, 0.3, 0.3, 1.2,
         0.9, 0.3, 0.2, 0.4, 0.6, 0.3, 0.2, 0.4, 0.6, 0.3, 0.3, 0.8, 0.6, 0.3, 0.2, 0.4,
         0.6, 0.4, 0.3, 0.5, 0.8, 0.6, 0.5, 0.8, 0.9, 0.7, 0.8, 1.2, 1.5, 1.2, 1.0, 1.2,
         0.8, 0.4, 0.3, 0.6, 1.0, 1.3, 0.8, 0.8, 1.0, 1.2, 1.5, 1.8, 1.3, 0.8, 0.7, 0.9]

member_temps = [p0_t, p1_t, p2_t, p3_t, p4_t, p5_t, p6_t, p7_t, p8_t, p9_t, p10_t,
                p11_t, p12_t, p13_t, p14_t, p15_t, p16_t, p17_t, p18_t, p19_t, p20_t]
member_rain = [p0_r, p1_r, p2_r, p3_r, p4_r, p5_r, p6_r, p7_r, p8_r, p9_r, p10_r,
               p11_r, p12_r, p13_r, p14_r, p15_r, p16_r, p17_r, p18_r, p19_r, p20_r]

# ---------------- tables ----------------
rows = []
for name, tser, rser in zip(members, member_temps, member_rain):
    for h, t, r in zip(hours, tser, rser):
        rows.append({"member": name, "hour": h, "temp": t, "rain": r})
df_m = pd.DataFrame(rows)
df_main = pd.DataFrame({"hour": hours, "clim": clim_t, "mean": mean_t, "gfs": gfs_t,
                        "ctrl": ctrl_t, "mean_r": mean_r, "gfs_r": gfs_r, "ctrl_r": ctrl_r})

# ---------------- figure ----------------
plt.rcParams["font.family"] = ["DejaVu Sans"]
fig = plt.figure(figsize=(4.8, 3.7), dpi=100, facecolor="black")
ax = fig.add_axes([87 / 480, 33 / 370, 371 / 480, 305 / 370])
ax.set_facecolor("black")
ax2 = ax.twinx()

pal = dict(zip(members, member_colors))
GRAY = "#c8c8c8"

# temperature
sns.lineplot(data=df_m, x="hour", y="temp", hue="member", palette=pal, hue_order=members,
             estimator=None, linewidth=0.7, legend=False, ax=ax)
sns.lineplot(data=df_main, x="hour", y="clim", color="#ff0000", linewidth=2.4, ax=ax)
sns.lineplot(data=df_main, x="hour", y="ctrl", color="#0000ff", linewidth=1.4, ax=ax)
sns.lineplot(data=df_main, x="hour", y="mean", color="white", linewidth=1.8, ax=ax)
sns.lineplot(data=df_main, x="hour", y="gfs", color="#00e600", linewidth=1.7, ax=ax)

# precipitation
sns.lineplot(data=df_m, x="hour", y="rain", hue="member", palette=pal, hue_order=members,
             estimator=None, linewidth=0.7, legend=False, ax=ax2)
sns.lineplot(data=df_main, x="hour", y="ctrl_r", color="#0000ff", linewidth=1.4, ax=ax2)
sns.lineplot(data=df_main, x="hour", y="mean_r", color="white", linewidth=1.8, ax=ax2)
sns.lineplot(data=df_main, x="hour", y="gfs_r", color="#00e600", linewidth=1.7, ax=ax2)

ax.set_xlim(0, 378)
ax.set_ylim(-30, 30)
ax2.set_ylim(0, 50)
ax.set_yticks(range(-30, 31, 5))
ax2.set_yticks(range(0, 51, 5))
ax.set_xticks(x_ticks)
ax.set_xticklabels(x_labels, linespacing=1.0)
for a in (ax, ax2):
    a.set_xlabel("")
    a.set_ylabel("")
ax.tick_params(axis="y", colors=GRAY, labelsize=5.5, length=2, width=0.6, pad=1.5)
ax.tick_params(axis="x", colors=GRAY, labelsize=5.5, length=2, width=0.6, pad=2)
ax2.tick_params(axis="y", colors=GRAY, labelsize=5.5, length=2, width=0.6, pad=1.5)

ax.grid(True, color="#9a9a9a", linestyle=(0, (1, 3)), linewidth=0.6)
ax2.grid(False)
ax.set_axisbelow(True)

for a in (ax, ax2):
    for s in ("top", "bottom"):
        a.spines[s].set_color("#e0e0e0")
        a.spines[s].set_linewidth(0.8)
    a.spines["left"].set_color("#b4b4b4")
    a.spines["left"].set_linewidth(1.6)
    a.spines["right"].set_color("#b4b4b4")
    a.spines["right"].set_linewidth(1.6)

handles = [Line2D([], [], color="#ff0000", lw=1.6), Line2D([], [], color="#0000ff", lw=1.6),
           Line2D([], [], color="#00e600", lw=1.6), Line2D([], [], color="white", lw=1.6)]
labels = ["30-Jahres-Mittel", "Kontroll-Lauf", "GFS-Hauptlauf", "Ensemble-Mittel"]
leg = ax2.legend(handles, labels, loc="upper right", bbox_to_anchor=(1.0, 1.0),
                 borderaxespad=0, frameon=True, fancybox=False, facecolor="black",
                 edgecolor="white", fontsize=5, labelcolor="white", handlelength=3.3,
                 handletextpad=1.4, borderpad=0.8, labelspacing=0.25, framealpha=1)
leg.get_frame().set_linewidth(0.8)

# texts
fig.text(43 / 480, 1 - 8 / 370, "De_Bilt  Lat: 52 Lon: 5", color="white", fontsize=7,
         ha="left", va="center")
fig.text(327 / 480, 1 - 8 / 370, "Sun,05JUL2009 18Z", color="white", fontsize=7,
         ha="left", va="center")
fig.text(272 / 480, 1 - 20 / 370, "850 hPa Temp. in °C, 6h\u2013Niederschlag in mm",
         color="white", fontsize=10.5, ha="center", va="center")
for i, (name, col) in enumerate(zip(members, member_colors)):
    fig.text(33 / 480, 1 - (65 + 10.9 * i) / 370, name, color=col, fontsize=5,
             ha="left", va="center")
fig.text(88 / 480, 1 - 364 / 370, "Daten: Ensembles des GFS von NCEP", color=GRAY,
         fontsize=5.5, ha="left", va="center")
fig.text(465 / 480, 1 - 363 / 370, "Wetterzentrale", color=GRAY, fontsize=7.5,
         ha="right", va="center")

fig.savefig("out.png", dpi=100, facecolor="black")
